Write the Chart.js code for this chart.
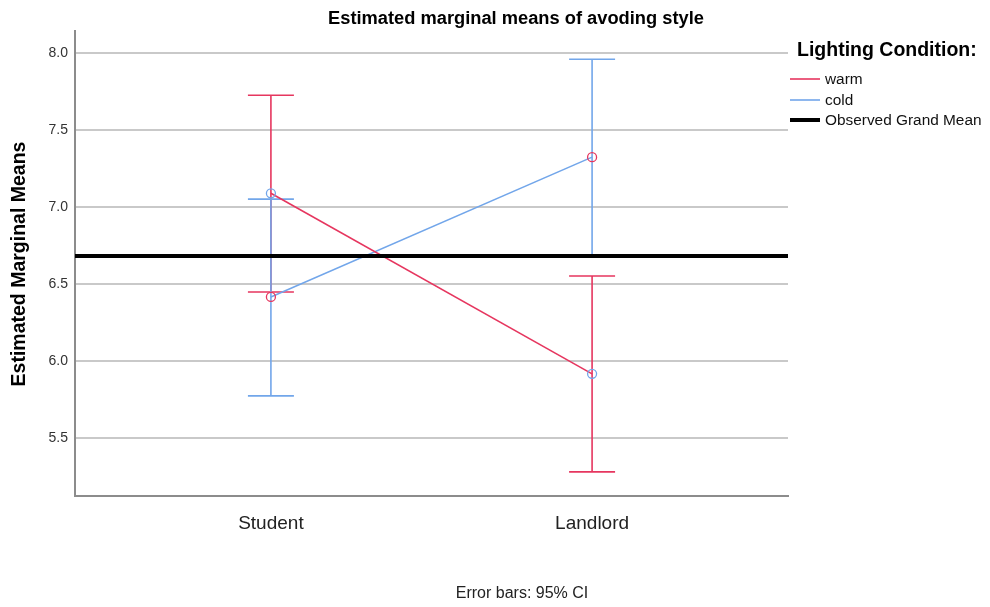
<!DOCTYPE html>
<html>
<head>
<meta charset="utf-8">
<script src="https://cdn.jsdelivr.net/npm/chart.js@4.4.0/dist/chart.umd.min.js"></script>
<style>
  html, body { margin: 0; padding: 0; background: #fff; }
  #wrap { width: 990px; height: 607px; position: relative; }
</style>
</head>
<body>
<div id="wrap"><canvas id="myChart" width="990" height="607"></canvas></div>
<script>
// data
const categories = ['Student', 'Landlord'];
const warmMean = [7.09, 5.916];
const warmLower = [6.448, 5.279];
const warmUpper = [7.727, 6.552];
const coldMean = [6.416, 7.325];
const coldLower = [5.773, 6.689];
const coldUpper = [7.052, 7.961];
const grandMean = 6.683;
const yTicks = [5.5, 6.0, 6.5, 7.0, 7.5, 8.0];

const RED = '#e6365f';
const BLUE = '#72a6ea';
const X_MIN = -0.61, X_MAX = 1.61;

const toPoints = arr => arr.map((v, i) => ({ x: i, y: v }));

// error bars + text
const errorBars = {
  id: 'errorBars',
  beforeDatasetsDraw(chart) {
    const { ctx, scales: { x, y } } = chart;
    const series = [
      { lo: warmLower, hi: warmUpper, color: RED },
      { lo: coldLower, hi: coldUpper, color: BLUE }
    ];
    ctx.save();
    ctx.lineWidth = 1.6;
    series.forEach(s => {
      ctx.strokeStyle = s.color;
      s.lo.forEach((lo, i) => {
        const px = x.getPixelForValue(i);
        const pLo = y.getPixelForValue(lo);
        const pHi = y.getPixelForValue(s.hi[i]);
        ctx.beginPath();
        ctx.moveTo(px, pLo); ctx.lineTo(px, pHi);
        ctx.moveTo(px - 23, pLo); ctx.lineTo(px + 23, pLo);
        ctx.moveTo(px - 23, pHi); ctx.lineTo(px + 23, pHi);
        ctx.stroke();
      });
    });
    ctx.restore();
  },
  afterDraw(chart) {
    const { ctx } = chart;
    ctx.save();
    ctx.fillStyle = '#000';
    ctx.textAlign = 'center';
    ctx.textBaseline = 'middle';
    ctx.font = 'bold 18.3px "Liberation Sans", Arial';
    ctx.fillText('Estimated marginal means of avoding style', 516, 19);

    ctx.save();
    ctx.translate(20, 264);
    ctx.rotate(-Math.PI / 2);
    ctx.font = 'bold 19.5px "Liberation Sans", Arial';
    ctx.fillText('Estimated Marginal Means', 0, 0);
    ctx.restore();

    ctx.font = '16px "Liberation Sans", Arial';
    ctx.fillStyle = '#222';
    ctx.fillText('Error bars: 95% CI', 522, 594);

    // legend
    ctx.textAlign = 'left';
    ctx.fillStyle = '#000';
    ctx.font = 'bold 19.5px "Liberation Sans", Arial';
    ctx.fillText('Lighting Condition:', 797, 51);
    const items = [
      { label: 'warm', color: RED, w: 1.6, y: 79 },
      { label: 'cold', color: BLUE, w: 1.6, y: 100 },
      { label: 'Observed Grand Mean', color: '#000', w: 4, y: 120 }
    ];
    ctx.font = '15.4px "Liberation Sans", Arial';
    items.forEach(it => {
      ctx.strokeStyle = it.color;
      ctx.lineWidth = it.w;
      ctx.beginPath();
      ctx.moveTo(790, it.y); ctx.lineTo(820, it.y);
      ctx.stroke();
      ctx.fillStyle = '#111';
      ctx.fillText(it.label, 825, it.y + 1);
    });
    ctx.restore();
  }
};

const config = {
  type: 'line',
  data: {
    datasets: [
      {
        label: 'Observed Grand Mean',
        data: [{ x: X_MIN, y: grandMean }, { x: X_MAX, y: grandMean }],
        borderColor: '#000',
        borderWidth: 4,
        pointRadius: 0
      },
      {
        label: 'warm',
        data: toPoints(warmMean),
        borderColor: RED,
        borderWidth: 1.6,
        pointRadius: 4.5,
        pointBorderWidth: 1.3,
        pointBorderColor: BLUE,
        pointBackgroundColor: 'rgba(255,255,255,0)'
      },
      {
        label: 'cold',
        data: toPoints(coldMean),
        borderColor: BLUE,
        borderWidth: 1.6,
        pointRadius: 4.5,
        pointBorderWidth: 1.3,
        pointBorderColor: RED,
        pointBackgroundColor: 'rgba(255,255,255,0)'
      }
    ]
  },
  options: {
    responsive: false,
    animation: false,
    layout: { padding: { top: 31, right: 202, left: 0, bottom: 0 } },
    plugins: { legend: { display: false }, tooltip: { enabled: false } },
    scales: {
      x: {
        type: 'linear',
        min: X_MIN,
        max: X_MAX,
        afterBuildTicks: s => { s.ticks = categories.map((c, i) => ({ value: i })); },
        afterFit: s => { s.height = 111; },
        grid: { display: false },
        border: { color: '#8c8c8c', width: 2 },
        ticks: {
          callback: v => categories[v],
          padding: 8,
          color: '#222',
          font: { family: '"Liberation Sans", Arial', size: 19 }
        }
      },
      y: {
        min: 5.122,
        max: 8.145,
        afterBuildTicks: s => { s.ticks = yTicks.map(v => ({ value: v })); },
        afterFit: s => { s.width = 75; },
        grid: { color: '#c9c9c9', lineWidth: 2, drawTicks: false },
        border: { color: '#8c8c8c', width: 2 },
        ticks: {
          callback: v => v.toFixed(1),
          padding: 7,
          color: '#333',
          font: { family: '"Liberation Sans", Arial', size: 14 }
        }
      }
    }
  },
  plugins: [errorBars]
};

const myChart = new Chart(document.getElementById('myChart'), config);
</script>
</body>
</html>
